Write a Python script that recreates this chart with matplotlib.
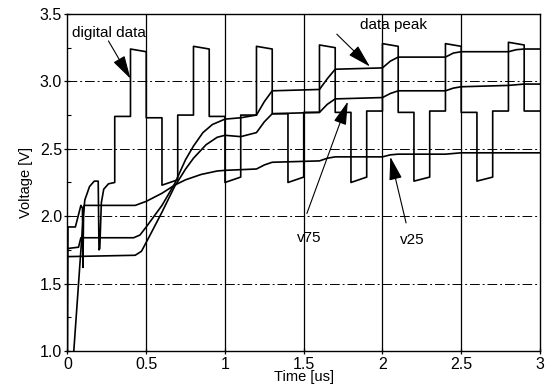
import matplotlib
matplotlib.use("Agg")
import matplotlib.pyplot as plt

# ---- data ----
digital_t = [0.0, 0.003, 0.05, 0.085, 0.095, 0.098, 0.102, 0.11, 0.14, 0.17, 0.195, 0.2, 0.205, 0.215,
             0.23, 0.26, 0.30, 0.30, 0.40, 0.40, 0.50, 0.50, 0.60, 0.60, 0.70, 0.70, 0.80, 0.80,
             0.90, 0.90, 1.00, 1.00, 1.10, 1.10, 1.20, 1.20, 1.30, 1.30, 1.40, 1.40, 1.50, 1.50,
             1.60, 1.60, 1.70, 1.70, 1.80, 1.80, 1.90, 1.90, 2.00, 2.00, 2.10, 2.10, 2.20, 2.20,
             2.30, 2.30, 2.40, 2.40, 2.50, 2.50, 2.60, 2.60, 2.70, 2.70, 2.80, 2.80, 2.90, 2.90, 3.00]
digital_v = [1.0, 1.92, 1.92, 2.08, 2.06, 1.62, 2.02, 2.12, 2.22, 2.26, 2.26, 1.75, 1.76, 2.10,
             2.20, 2.24, 2.25, 2.74, 2.74, 3.24, 3.22, 2.73, 2.73, 2.23, 2.27, 2.75, 2.75, 3.26,
             3.24, 2.74, 2.74, 2.25, 2.29, 2.75, 2.75, 3.26, 3.24, 2.76, 2.76, 2.25, 2.29, 2.77,
             2.77, 3.27, 3.25, 2.77, 2.77, 2.25, 2.29, 2.78, 2.78, 3.28, 3.26, 2.77, 2.77, 2.26,
             2.29, 2.78, 2.78, 3.28, 3.26, 2.77, 2.77, 2.26, 2.29, 2.78, 2.78, 3.29, 3.27, 2.78, 2.78]

peak_t = [0.0, 0.07, 0.085, 0.42, 0.46, 0.50, 0.60, 0.68, 0.75, 0.80, 0.86, 0.92, 1.00, 1.10, 1.20,
          1.25, 1.30, 1.60, 1.65, 1.70, 2.00, 2.05, 2.10, 2.40, 2.45, 2.50, 2.80, 2.85, 2.90, 3.00]
peak_v = [1.76, 1.77, 1.84, 1.84, 1.86, 1.92, 2.08, 2.24, 2.42, 2.52, 2.62, 2.68, 2.72, 2.73, 2.75,
          2.85, 2.93, 2.94, 3.02, 3.09, 3.10, 3.15, 3.18, 3.18, 3.21, 3.22, 3.22, 3.235, 3.24, 3.24]

v75_t = [0.0, 0.43, 0.47, 0.52, 0.60, 0.68, 0.75, 0.80, 0.88, 0.95, 1.00, 1.10, 1.20, 1.25, 1.30,
         1.60, 1.65, 1.70, 2.00, 2.05, 2.10, 2.40, 2.45, 2.50, 2.80, 2.90, 3.00]
v75_v = [1.70, 1.71, 1.74, 1.85, 2.03, 2.22, 2.35, 2.43, 2.53, 2.585, 2.60, 2.59, 2.62, 2.70, 2.76,
         2.77, 2.83, 2.87, 2.88, 2.91, 2.93, 2.93, 2.95, 2.96, 2.97, 2.98, 2.98]

v25_t = [0.04, 0.105, 0.43, 0.50, 0.60, 0.68, 0.75, 0.85, 0.95, 1.00, 1.20, 1.25, 1.30, 1.60, 1.65,
         1.70, 2.00, 2.05, 2.10, 2.40, 2.50, 3.00]
v25_v = [1.00, 2.08, 2.08, 2.11, 2.17, 2.23, 2.27, 2.31, 2.335, 2.34, 2.35, 2.38, 2.40, 2.41, 2.43,
         2.44, 2.44, 2.455, 2.46, 2.46, 2.47, 2.47]

x_ticks = [0, 0.5, 1, 1.5, 2, 2.5, 3]
x_tick_labels = ["0", "0.5", "1", "1.5", "2", "2.5", "3"]
y_ticks = [1.0, 1.5, 2.0, 2.5, 3.0, 3.5]
y_tick_labels = ["1.0", "1.5", "2.0", "2.5", "3.0", "3.5"]

plt.rcParams['font.family'] = ['Liberation Sans', 'DejaVu Sans']

fig = plt.figure(figsize=(5.56, 3.88), dpi=100)
ax = fig.add_axes([0.1214, 0.0954, 0.8497, 0.8686])

ax.set_xlim(0, 3)
ax.set_ylim(1.0, 3.5)

# grid
for xv in x_ticks[1:-1]:
    ax.axvline(xv, color='black', lw=0.9, zorder=1)
for yv in y_ticks[1:-1]:
    ax.axhline(yv, color='black', lw=0.7, linestyle=(0, (10, 3, 2, 3)), zorder=1)

lw = 1.2
ax.plot(digital_t, digital_v, color='black', lw=lw, zorder=3)
ax.plot(peak_t, peak_v, color='black', lw=lw, zorder=3)
ax.plot(v75_t, v75_v, color='black', lw=lw, zorder=3)
ax.plot(v25_t, v25_v, color='black', lw=lw, zorder=3)

ax.set_xticks(x_ticks)
ax.set_xticklabels(x_tick_labels, fontsize=11.5)
ax.set_yticks(y_ticks)
ax.set_yticklabels(y_tick_labels, fontsize=11.5)
ax.set_yticks([1.25, 1.75, 2.25, 2.75, 3.25], minor=True)
ax.tick_params(axis='both', which='major', direction='inout', length=5, width=0.9, pad=1.5)
ax.tick_params(axis='y', which='minor', direction='in', length=3, width=0.8)
for s in ax.spines.values():
    s.set_linewidth(1.0)

ax.set_xlabel("Time [us]", fontsize=10.5, labelpad=-1)
ax.set_ylabel("Voltage [V]", fontsize=10.5, labelpad=5)

ap = dict(arrowstyle='-|>,head_length=0.9,head_width=0.25', mutation_scale=16,
          color='black', lw=0.8, shrinkA=0, shrinkB=0)
ax.text(0.03, 3.36, "digital data", fontsize=11, ha='left', va='center')
ax.annotate("", xy=(0.40, 3.02), xytext=(0.26, 3.30), arrowprops=ap)
ax.text(1.86, 3.42, "data peak", fontsize=11, ha='left', va='center')
ax.annotate("", xy=(1.92, 3.11), xytext=(1.71, 3.35), arrowprops=ap)
ax.text(1.46, 1.84, "v75", fontsize=11, ha='left', va='center')
ax.annotate("", xy=(1.78, 2.85), xytext=(1.52, 2.02), arrowprops=ap)
ax.text(2.11, 1.82, "v25", fontsize=11, ha='left', va='center')
ax.annotate("", xy=(2.05, 2.44), xytext=(2.15, 1.95), arrowprops=ap)

fig.savefig("out.png", dpi=100, facecolor='white')
